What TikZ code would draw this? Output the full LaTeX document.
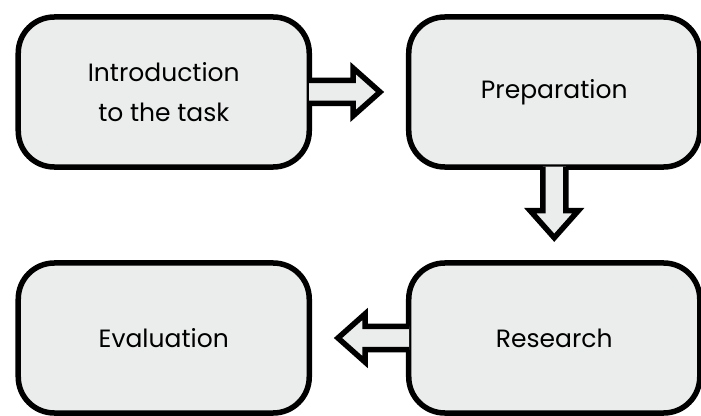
\documentclass[tikz,border=0pt]{standalone}
\usepackage{fontspec}
\setmainfont{Poppins}
\usepackage{xcolor}
\usepackage{tikz}
\usetikzlibrary{matrix}

\definecolor{boxgray}{RGB}{235,236,236}

\tikzset{
	stagebox/.style={draw=black, fill=boxgray, line width=5.5pt, rounded corners=36pt,
		minimum width=291pt, minimum height=150pt, align=center, text=black,
		font=\fontsize{25}{40}\selectfont},
	fatarrow/.pic={
		\filldraw[fill=boxgray, draw=black, line width=5.5pt] (-3,11.5) -- (41,11.5) -- (41,24) -- (68,0) -- (41,-24) -- (41,-11.5) -- (-3,-11.5);
	}
}

\begin{document}
\begin{tikzpicture}[x=1pt, y=1pt]
	\useasboundingbox (0,0) rectangle (701,415);
	\matrix(m) at (359,200) [column sep=94pt, row sep=90.5pt]{
		\node[stagebox] (intro) {Introduction\\to the task};	&\node[stagebox] (prep) {Preparation};	\\
		\node[stagebox] (eval) {Evaluation};	&\node[stagebox] (research) {Research};	\\
	};
	% hollow arrows between the stages
	\pic at (intro.east) {fatarrow};
	\pic[rotate=-90] at (prep.south) {fatarrow};
	\pic[rotate=180] at (research.west) {fatarrow};
\end{tikzpicture}
\end{document}
